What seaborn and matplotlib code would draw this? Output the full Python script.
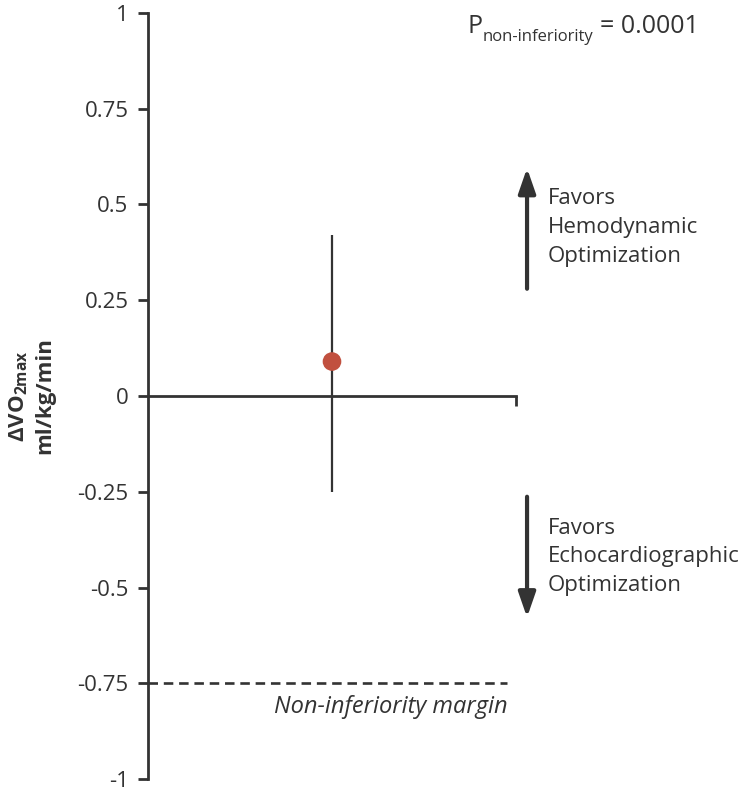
import matplotlib
matplotlib.use("Agg")
import matplotlib.pyplot as plt
import seaborn as sns
import pandas as pd

# data
Y_TICKS = [1, 0.75, 0.5, 0.25, 0, -0.25, -0.5, -0.75, -1]
Y_TICK_LABELS = ["1", "0.75", "0.5", "0.25", "0", "-0.25", "-0.5", "-0.75", "-1"]
POINT_X = [0.5]
POINT_Y = [0.09]
CI_LOW = [-0.25]
CI_HIGH = [0.42]
MARGIN = -0.75
P_VALUE = "0.0001"

DARK = "#333333"
RED = "#c1503f"

sns.set_style("ticks")
plt.rcParams["font.family"] = ["Open Sans", "DejaVu Sans"]
plt.rcParams["text.color"] = DARK
plt.rcParams["mathtext.fontset"] = "custom"
plt.rcParams["mathtext.rm"] = "Open Sans"
plt.rcParams["mathtext.bf"] = "Open Sans:bold"

fig = plt.figure(figsize=(7.46, 7.93), dpi=100)
ax = fig.add_axes([148 / 746, 14 / 793, 368 / 746, 766 / 793])

df = pd.DataFrame({"x": POINT_X, "y": POINT_Y, "lo": CI_LOW, "hi": CI_HIGH})

# confidence interval and point estimate
ax.vlines(df["x"], df["lo"], df["hi"], color=DARK, lw=1.6, zorder=3)
sns.scatterplot(data=df, x="x", y="y", s=180, color=RED, edgecolor="none",
                zorder=5, ax=ax, legend=False, clip_on=False)

# non-inferiority margin
ax.plot([0, 0.975], [MARGIN, MARGIN], color=DARK, lw=1.9,
        dashes=(3.6, 2.2), zorder=2)
ax.text(0.976, MARGIN - 0.078, "Non-inferiority margin", style="italic",
        ha="right", va="baseline", fontsize=17, color=DARK)

# axes styling
ax.set_xlim(0, 1)
ax.set_ylim(-1, 1)
ax.spines["top"].set_visible(False)
ax.spines["right"].set_visible(False)
ax.spines["bottom"].set_position(("data", 0))
for side in ["left", "bottom"]:
    ax.spines[side].set_color(DARK)
    ax.spines[side].set_linewidth(2)
ax.set_xticks([1])
ax.set_xticklabels([""])
ax.set_yticks(Y_TICKS)
ax.set_yticklabels(Y_TICK_LABELS)
ax.tick_params(axis="y", length=7, width=2, color=DARK, labelcolor=DARK,
               labelsize=16, pad=7)
ax.tick_params(axis="x", length=7, width=2, color=DARK, direction="out")
ax.set_xlabel("")
ax.set_ylabel("")

fig.text(31 / 746, 1 - 396 / 793, "ΔVO$_{\\mathbf{2max}}$\nml/kg/min",
         rotation=90, ha="center", va="center", fontsize=16,
         fontweight="bold", multialignment="center", color=DARK,
         linespacing=1.25)

# direction arrows
arrow_kw = dict(arrowstyle="-|>,head_length=0.75,head_width=0.26",
                color=DARK, lw=3, shrinkA=0, shrinkB=0, mutation_scale=20)
ax.annotate("", xy=(1.03, 0.595), xytext=(1.03, 0.28),
            arrowprops=arrow_kw, annotation_clip=False)
ax.annotate("", xy=(1.03, -0.578), xytext=(1.03, -0.263),
            arrowprops=arrow_kw, annotation_clip=False)
ax.text(1.087, 0.44, "Favors\nHemodynamic\nOptimization", ha="left",
        va="center", fontsize=16, linespacing=1.48, color=DARK, clip_on=False)
ax.text(1.087, -0.42, "Favors\nEchocardiographic\nOptimization", ha="left",
        va="center", fontsize=16, linespacing=1.48, color=DARK, clip_on=False)

# p-value with subscript
t1 = fig.text(467 / 746, 1 - 33 / 793, "P", ha="left", va="baseline",
              fontsize=18, color=DARK)
t2 = ax.annotate("non-inferiority", xy=(1, 0), xycoords=t1,
                 xytext=(0.5, -4.5), textcoords="offset points",
                 ha="left", va="bottom", fontsize=12, color=DARK)
t3 = ax.annotate("= " + P_VALUE, xy=(1, 0), xycoords=(t2, t1),
                 xytext=(5, 0), textcoords="offset points",
                 ha="left", va="bottom", fontsize=18, color=DARK)

fig.savefig("out.png", dpi=100)
